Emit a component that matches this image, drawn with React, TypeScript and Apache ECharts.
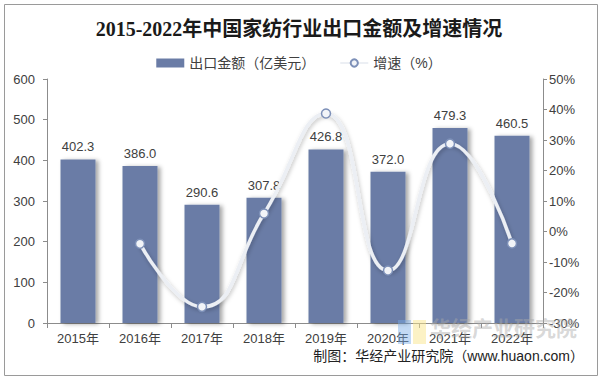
import React, { useEffect, useRef } from "react";
import * as echarts from "echarts";

const categories = ["2015年", "2016年", "2017年", "2018年", "2019年", "2020年", "2021年", "2022年"];
const exportValues = [402.3, 386.0, 290.6, 307.8, 426.8, 372.0, 479.3, 460.5];
const growthValues: (number | null)[] = [null, -4.0, -24.7, 5.9, 38.7, -12.8, 28.8, -3.9];
const titleText = "2015-2022年中国家纺行业出口金额及增速情况";
const sourceText = "制图：华经产业研究院（www.huaon.com）";
const watermarkText = "华经产业研究院";

export default function App() {
  const ref = useRef<HTMLDivElement>(null);
  useEffect(() => {
    if (!ref.current) return;
    const chart = echarts.init(ref.current, null, { renderer: "svg" });
    const axisColor = "#8c8c8c";
    const labelColor = "#404040";
    const font = "Arial, 'Liberation Sans', 'Noto Sans CJK SC', sans-serif";
    chart.setOption({
      animation: false,
      backgroundColor: "#ffffff",
      textStyle: { fontFamily: font },
      title: {
        text: titleText,
        left: "center",
        top: 14,
        textStyle: {
          fontFamily: "'Liberation Serif', 'Noto Sans CJK SC', serif",
          fontWeight: "bold",
          fontSize: 20,
          color: "#1a1a1a",
        },
      },
      legend: {
        top: 51,
        left: "center",
        itemGap: 24,
        itemWidth: 28,
        itemHeight: 9,
        textStyle: { fontSize: 14, color: labelColor, fontFamily: font },
        data: [
          { name: "出口金额（亿美元）", icon: "rect" },
          { name: "增速（%）" },
        ],
      },
      grid: { left: 47, right: 55, top: 79, bottom: 54, containLabel: false },
      xAxis: {
        type: "category",
        data: categories,
        boundaryGap: true,
        axisLine: { show: true, lineStyle: { color: axisColor } },
        axisTick: { show: true, length: 5, lineStyle: { color: axisColor } },
        axisLabel: { color: labelColor, fontSize: 13, margin: 9 },
      },
      yAxis: [
        {
          type: "value",
          min: 0,
          max: 600,
          interval: 100,
          splitLine: { show: false },
          axisLine: { show: true, lineStyle: { color: axisColor } },
          axisTick: { show: true, length: 4, lineStyle: { color: axisColor } },
          axisLabel: { color: labelColor, fontSize: 13, margin: 12 },
        },
        {
          type: "value",
          min: -30,
          max: 50,
          interval: 10,
          splitLine: { show: false },
          axisLine: { show: true, lineStyle: { color: axisColor } },
          axisTick: { show: true, length: 4, lineStyle: { color: axisColor } },
          axisLabel: { color: labelColor, fontSize: 13, margin: 6, formatter: "{value}%" },
        },
      ],
      series: [
        {
          name: "出口金额（亿美元）",
          type: "bar",
          data: exportValues,
          barWidth: 35,
          itemStyle: {
            color: "#6a7ca6",
            shadowColor: "rgba(0,0,0,0.35)",
            shadowBlur: 4,
            shadowOffsetX: 3,
            shadowOffsetY: 1,
          },
          label: {
            show: true,
            position: "top",
            distance: 6,
            color: labelColor,
            fontSize: 13,
            formatter: (p: any) => Number(p.value).toFixed(1),
          },
        },
        {
          name: "增速（%）",
          type: "line",
          yAxisIndex: 1,
          data: growthValues,
          smooth: 0.5,
          symbol: "circle",
          symbolSize: 9,
          connectNulls: false,
          lineStyle: {
            color: "#eceff4",
            width: 3.5,
            shadowColor: "rgba(0,0,0,0.25)",
            shadowBlur: 4,
            shadowOffsetX: 1,
            shadowOffsetY: 2,
          },
          itemStyle: {
            color: "#f2f4f8",
            borderColor: "#7d90b8",
            borderWidth: 1.5,
          },
          z: 5,
        },
      ],
      graphic: [
        {
          type: "rect",
          left: 2,
          top: 2,
          shape: { width: 593, height: 371 },
          style: { fill: "none", stroke: "#9a9a9a", lineWidth: 1 },
          silent: true,
          z: 100,
        },
        {
          type: "rect",
          left: 398,
          top: 320,
          shape: { width: 13, height: 24 },
          style: { fill: "rgba(120,170,230,0.45)" },
          silent: true,
          z: 50,
        },
        {
          type: "rect",
          left: 413,
          top: 320,
          shape: { width: 13, height: 24 },
          style: { fill: "rgba(250,230,140,0.5)" },
          silent: true,
          z: 50,
        },
        {
          type: "text",
          left: 430,
          top: 316,
          style: {
            text: watermarkText,
            fill: "rgba(170,170,170,0.45)",
            font: "bold 21px 'Noto Sans CJK SC', sans-serif",
          },
          silent: true,
          z: 50,
        },
        {
          type: "text",
          right: 14,
          top: 349,
          style: {
            text: sourceText,
            fill: "#222222",
            font: "14px Arial, 'Noto Sans CJK SC', sans-serif",
          },
          silent: true,
          z: 60,
        },
      ],
    });
    return () => chart.dispose();
  }, []);
  return (
    <div
      ref={ref}
      style={{ position: "absolute", left: 0, top: 0, width: 598, height: 377 }}
    />
  );
}
